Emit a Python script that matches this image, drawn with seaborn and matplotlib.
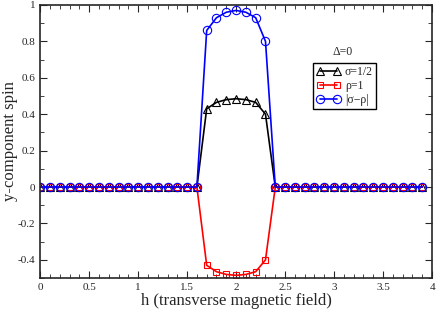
import numpy as np
import pandas as pd
import matplotlib
matplotlib.use('Agg')
import matplotlib.pyplot as plt
import seaborn as sns
from matplotlib.ticker import MultipleLocator, FuncFormatter

h = [round(0.1 * i, 1) for i in range(40)]
sigma = [0.0] * 17 + [0.43, 0.465, 0.48, 0.485, 0.48, 0.465, 0.40] + [0.0] * 16
rho = [-v for v in sigma]
diff = [0.86, 0.93, 0.96, 0.97, 0.96, 0.93, 0.80]
absdiff = [0.0] * 17 + diff + [0.0] * 16

df = pd.DataFrame({'h': h, 'sigma': sigma, 'rho': rho, 'absdiff': absdiff})

sns.set_style('ticks')
plt.rcParams['font.family'] = ['Liberation Serif', 'DejaVu Serif']

fig, ax = plt.subplots(figsize=(4.36, 3.10), dpi=100)
fig.subplots_adjust(left=0.092, right=0.991, top=0.984, bottom=0.103)

sns.lineplot(data=df, x='h', y='sigma', ax=ax, color='black', marker='^', markersize=6,
             markerfacecolor='none', markeredgecolor='black', markeredgewidth=0.8,
             linewidth=1.2, label='σ=1/2')
sns.lineplot(data=df, x='h', y='rho', ax=ax, color='red', marker='s', markersize=5,
             markerfacecolor='none', markeredgecolor='red', markeredgewidth=0.8,
             linewidth=1.2, label='ρ=1')
sns.lineplot(data=df, x='h', y='absdiff', ax=ax, color='blue', marker='o', markersize=6,
             markerfacecolor='none', markeredgecolor='blue', markeredgewidth=0.8,
             linewidth=1.2, label='|σ−ρ|')

ax.set_xlim(0, 4)
ax.set_ylim(-0.5, 1)
ax.xaxis.set_major_locator(MultipleLocator(0.5))
ax.xaxis.set_minor_locator(MultipleLocator(0.1))
ax.yaxis.set_major_locator(MultipleLocator(0.2))
ax.yaxis.set_minor_locator(MultipleLocator(0.1))
fmt = FuncFormatter(lambda v, p: '%g' % round(v, 2))
ax.xaxis.set_major_formatter(fmt)
ax.yaxis.set_major_formatter(fmt)
ax.tick_params(which='both', direction='in', top=True, right=True, labelsize=8)
ax.tick_params(which='major', length=5)
ax.tick_params(which='minor', length=3)
for s in ax.spines.values():
    s.set_linewidth(1.2)

ax.set_xlabel('h (transverse magnetic field)', fontsize=12, labelpad=1)
ax.set_ylabel('y-component spin', fontsize=12, labelpad=0)

ax.text(0.747, 0.815, 'Δ=0', transform=ax.transAxes, fontsize=8.5, va='baseline')
leg = ax.legend(loc='upper left', bbox_to_anchor=(0.696, 0.788), fontsize=8.5,
                frameon=True, fancybox=False, edgecolor='black', handlelength=2.0,
                numpoints=2, borderpad=0.3, labelspacing=0.15, handletextpad=0.4,
                borderaxespad=0, framealpha=1)
leg.get_frame().set_linewidth(1.0)

fig.savefig('out.png', dpi=100)
